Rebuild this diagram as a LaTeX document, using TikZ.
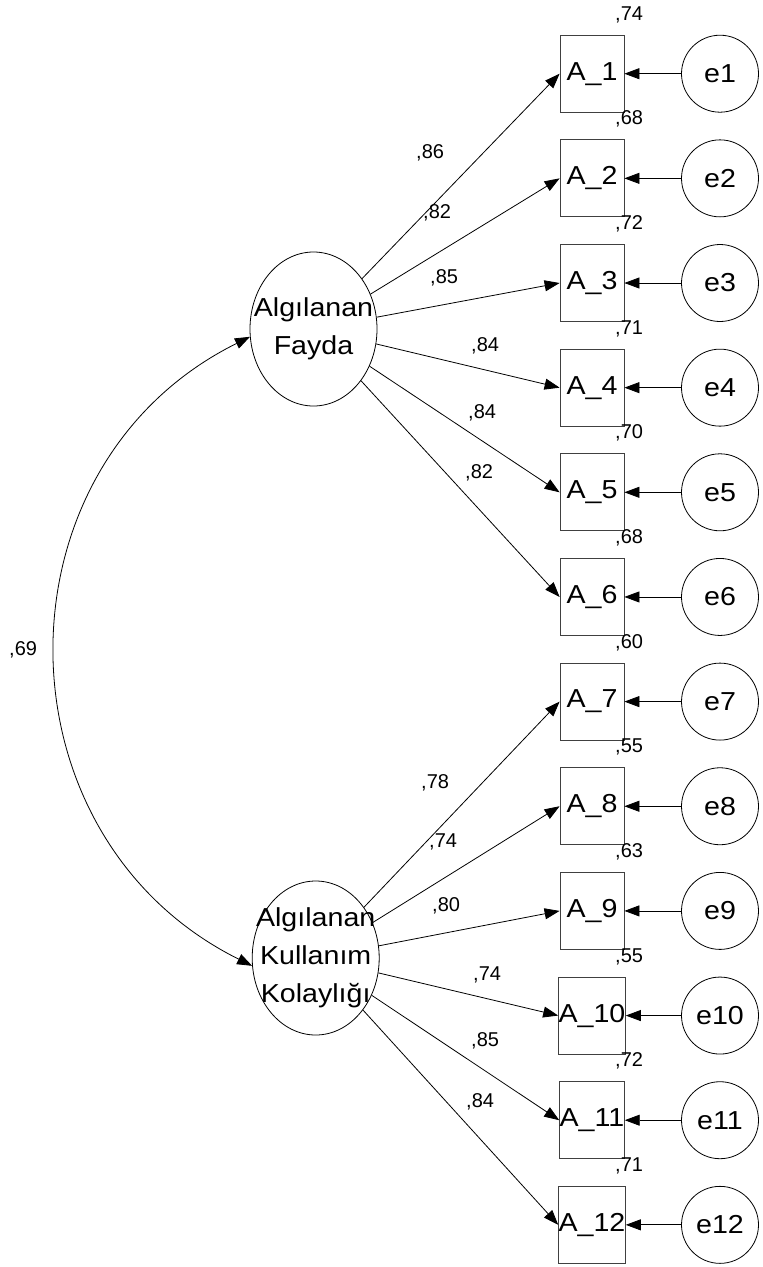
\documentclass[tikz,border=0pt]{standalone}
\usepackage{fontspec}
\setmainfont{Liberation Sans}
\newfontfamily\bigfam[FakeStretch=1.1]{Liberation Sans}
\newcommand\bigfont{\bigfam\fontsize{26}{38}\selectfont}
\newcommand\smallfont{\fontsize{20}{24}\selectfont}
\usetikzlibrary{arrows.meta,shapes.geometric}
\begin{document}
\begin{tikzpicture}[x=1pt,y=1pt,
  obs/.style={draw=black!75, line width=0.8pt, minimum width=64pt, minimum height=77pt, inner sep=0pt, font=\bigfont},
  err/.style={circle, draw, line width=0.8pt, minimum size=77pt, inner sep=0pt, font=\bigfont},
  lat/.style={ellipse, draw, line width=0.8pt, minimum width=127pt, minimum height=154pt, inner sep=0pt},
  lattext/.style={font=\bigfont, align=center, inner sep=0pt},
  coef/.style={anchor=base west, inner sep=0pt, font=\smallfont},
  conn/.style={line width=0.8pt, -{Triangle[length=15pt,width=11pt]}},
  cov/.style={line width=0.8pt, {Triangle[length=15pt,width=11pt]}-{Triangle[length=15pt,width=11pt]}},
]
\useasboundingbox (0,0) rectangle (763,-1267);

% latent variables
\node[lat] (f) at (313.5,-329) {};
\node[lattext] (ft) at (f.center) {Algılanan\\Fayda};
\node[lat] (k) at (315.7,-958) {};
\node[lattext] (kt) at (k.center) {Algılanan\\Kullanım\\Kolaylığı};

% observed variables, errors, R^2
\foreach \i/\r in {1/74,2/68,3/72,4/71,5/70,6/68,7/60,8/55,9/63,10/55,11/72,12/71}{
  \pgfmathsetmacro\yy{-(73.7+104.65*(\i-1))}
  \node[obs] (A\i) at (592,\yy) {A\_\i};
  \node[err] (e\i) at (720,\yy) {e\i};
  \node[coef] (r\i) at (615,\yy+53.5) {,\r};
  \draw[conn] (e\i) -- (A\i);
}

% loadings
\foreach \i in {1,...,6}{\draw[conn] (f) -- (A\i.west);}
\foreach \i in {7,...,12}{\draw[conn] (k) -- (A\i.west);}

% loading labels
\node[coef] (l1) at (416,-158.3) {,86};
\node[coef] (l2) at (423,-218.3) {,82};
\node[coef] (l3) at (430,-283.3) {,85};
\node[coef] (l4) at (471,-351.7) {,84};
\node[coef] (l5) at (468,-418.3) {,84};
\node[coef] (l6) at (465,-478.3) {,82};
\node[coef] (l7) at (421,-788.3) {,78};
\node[coef] (l8) at (429,-847.3) {,74};
\node[coef] (l9) at (432,-911.7) {,80};
\node[coef] (l10) at (473,-980) {,74};
\node[coef] (l11) at (471,-1046) {,85};
\node[coef] (l12) at (466,-1107.3) {,84};

% covariance
\draw[cov] (f.187) .. controls +(206.4:290) and +(153.6:290) .. (k.187);
\node[coef] (c) at (9,-655) {,69};
\end{tikzpicture}
\end{document}
